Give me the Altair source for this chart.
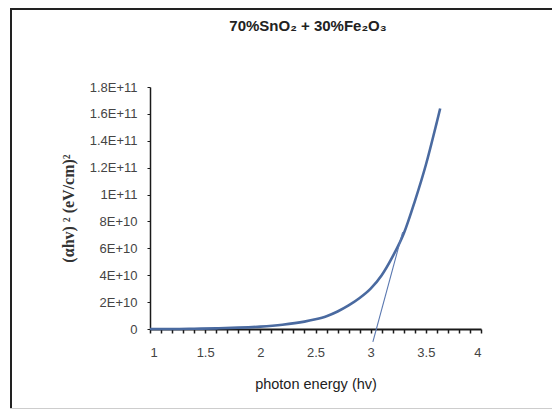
import altair as alt
import pandas as pd

# Curve data (photon energy in eV, (αhv)^2 in units of 1E10)
energy = [1.0, 1.2, 1.4, 1.6, 1.8, 2.0, 2.2, 2.4, 2.5, 2.6, 2.7, 2.8, 2.9, 3.0,
          3.1, 3.2, 3.3, 3.4, 3.5, 3.6, 3.63]
ahv2_e10 = [0.0, 0.0, 0.02, 0.05, 0.1, 0.18, 0.32, 0.55, 0.72, 0.95, 1.3, 1.75,
            2.3, 3.0, 4.0, 5.4, 7.1, 9.5, 12.2, 15.4, 16.4]

# Tangent (band-gap extrapolation) line
tangent_x = [3.02, 3.29]
tangent_y_e10 = [-0.95, 7.2]

# Axis ticks / labels
x_tick_values = [round(1 + 0.1 * i, 1) for i in range(31)]
x_tick_labels = ["1", "1.5", "2", "2.5", "3", "3.5", "4"]
y_tick_values = [0, 2e10, 4e10, 6e10, 8e10, 1e11, 1.2e11, 1.4e11, 1.6e11, 1.8e11]
y_tick_labels = ["0", "2E+10", "4E+10", "6E+10", "8E+10", "1E+11",
                 "1.2E+11", "1.4E+11", "1.6E+11", "1.8E+11"]
title_text = "70%SnO₂ + 30%Fe₂O₃"

curve = pd.DataFrame({"x": energy, "y": [v * 1e10 for v in ahv2_e10]})
tangent = pd.DataFrame({"x": tangent_x, "y": [v * 1e10 for v in tangent_y_e10]})
title_df = pd.DataFrame({"t": [title_text]})

y_expr = ""
for v, lab in zip(y_tick_values, y_tick_labels):
    y_expr += f"abs(datum.value - {v:.0f}) < 1 ? '{lab}' : "
y_expr += "''"

x_label_list = ",".join(f"'{l}'" for l in x_tick_labels)
x_expr = f"indexof([{x_label_list}], datum.label) >= 0 ? datum.label : ''"

FONT = "Liberation Sans"

x_scale = alt.Scale(domain=[1, 4], nice=False, zero=False)
y_scale = alt.Scale(domain=[0, 1.8e11], nice=False)

x_enc = alt.X(
    "x:Q", scale=x_scale,
    axis=alt.Axis(
        title="photon energy (hv)", values=x_tick_values, tickCount=len(x_tick_values),
        format=".1~f", labelExpr=x_expr, labelOverlap=False, grid=False,
        domainColor="#1a1a1a", domainWidth=2,
        tickColor="#1a1a1a", tickWidth=1.5, tickSize=4, labelPadding=13,
        labelFont=FONT, labelFontSize=13, labelColor="#444444",
        titleFont=FONT, titleFontSize=14.5, titleFontWeight="normal",
        titleColor="#222222", titlePadding=18,
    ),
)
y_enc = alt.Y(
    "y:Q", scale=y_scale,
    axis=alt.Axis(
        title="(αhv) ² (eV/cm)²", values=y_tick_values, tickCount=len(y_tick_values),
        labelExpr=y_expr, labelOverlap=False, grid=False,
        domainColor="#1a1a1a", domainWidth=1.5,
        tickColor="#1a1a1a", tickWidth=1, tickSize=3, labelPadding=10,
        labelFont=FONT, labelFontSize=13, labelColor="#444444",
        titleFont="Liberation Serif", titleFontSize=16, titleFontWeight="bold",
        titleColor="#333333", titlePadding=13,
    ),
)

line = alt.Chart(curve).mark_line(
    color="#4a6aa0", strokeWidth=2.6, interpolate="monotone"
).encode(x=x_enc, y=y_enc)

tan = alt.Chart(tangent).mark_line(
    color="#5a78b0", strokeWidth=1.1
).encode(x=alt.X("x:Q", scale=x_scale), y=alt.Y("y:Q", scale=y_scale))

# chart title as a text mark placed above the plot area
title_mark = alt.Chart(title_df).mark_text(
    font=FONT, fontSize=15, fontWeight="bold", color="#222222",
    align="center", baseline="middle"
).encode(text="t:N", x=alt.value(158), y=alt.value(-61))

# outer frame of the original figure (pixel offsets from the plot area's top-left)
frame_left = alt.Chart(curve).mark_rule(color="#222222", strokeWidth=2).encode(
    x=alt.value(-139), y=alt.value(-80), y2=alt.value(330))
frame_top = alt.Chart(curve).mark_rule(color="#222222", strokeWidth=2).encode(
    x=alt.value(-140), x2=alt.value(420), y=alt.value(-78.5))
frame_bottom = alt.Chart(curve).mark_rule(color="#cccccc", strokeWidth=1.5).encode(
    x=alt.value(-140), x2=alt.value(420), y=alt.value(322))

chart = alt.layer(frame_left, frame_top, frame_bottom, title_mark, line, tan).properties(
    width=331, height=242,
    autosize=alt.AutoSizeParams(type="none"),
    padding={"left": 142, "top": 79, "right": 71, "bottom": 80},
).configure(background="white", view=alt.ViewConfig(stroke="transparent"))

chart.save("out.html", embed_options={"renderer": "svg", "actions": False})
